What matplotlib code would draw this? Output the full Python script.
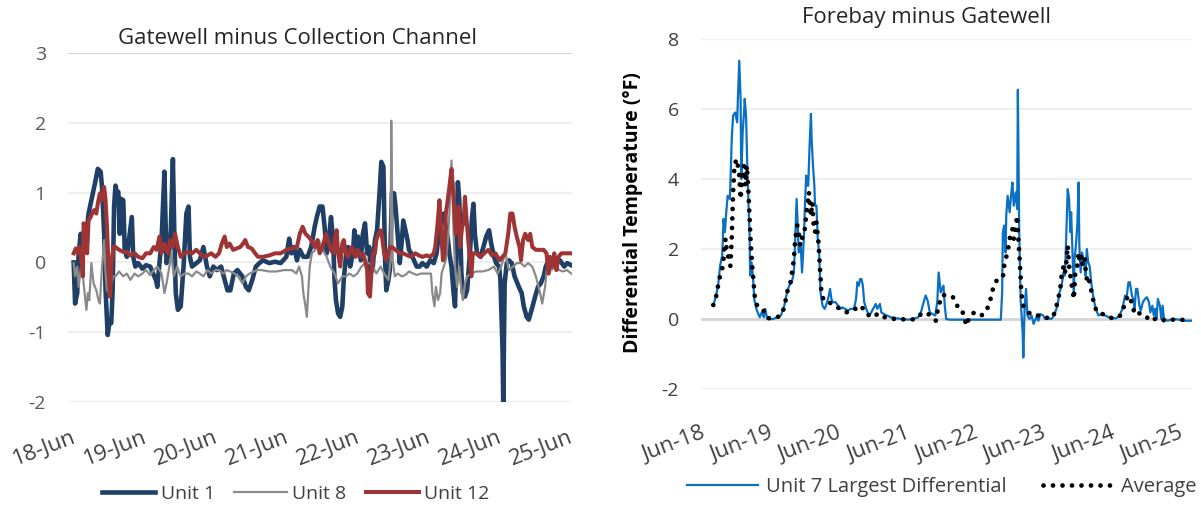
import matplotlib
matplotlib.use("Agg")
import matplotlib.pyplot as plt

plt.rcParams["font.family"] = ["Open Sans", "Noto Sans", "DejaVu Sans"]

# ---- left panel: Gatewell minus Collection Channel (days after 18-Jun) ----
left_dates = ["18-Jun", "19-Jun", "20-Jun", "21-Jun", "22-Jun", "23-Jun", "24-Jun", "25-Jun"]

u1_day = [0.03, 0.05, 0.08, 0.10, 0.13, 0.16, 0.20, 0.24, 0.29, 0.34,
          0.37, 0.41, 0.43, 0.46, 0.48, 0.51, 0.54, 0.56, 0.58, 0.60,
          0.62, 0.64, 0.66, 0.68, 0.70, 0.73, 0.75, 0.78, 0.81, 0.85,
          0.87, 0.90, 0.94, 1.00, 1.05, 1.11, 1.15, 1.19, 1.21, 1.24,
          1.27, 1.31, 1.34, 1.38, 1.40, 1.43, 1.45, 1.47, 1.50, 1.54,
          1.58, 1.62, 1.65, 1.67, 1.70, 1.76, 1.81, 1.86, 1.91, 1.95,
          2.00, 2.05, 2.11, 2.16, 2.20, 2.24, 2.29, 2.34, 2.41, 2.46,
          2.50, 2.55, 2.60, 2.65, 2.70, 2.79, 2.87, 2.95, 3.03, 3.07,
          3.10, 3.14, 3.18, 3.22, 3.27, 3.33, 3.38, 3.43, 3.46, 3.50,
          3.54, 3.57, 3.60, 3.63, 3.66, 3.69, 3.71, 3.73, 3.76, 3.79,
          3.82, 3.84, 3.87, 3.90, 3.93, 3.97, 3.99, 4.02, 4.04, 4.08,
          4.11, 4.14, 4.17, 4.20, 4.22, 4.25, 4.28, 4.31, 4.35, 4.37,
          4.40, 4.42, 4.44, 4.47, 4.49, 4.52, 4.55, 4.57, 4.60, 4.63,
          4.66, 4.68, 4.71, 4.74, 4.76, 4.79, 4.83, 4.87, 4.91, 4.95,
          5.01, 5.06, 5.11, 5.15, 5.18, 5.21, 5.25, 5.28, 5.31, 5.33,
          5.36, 5.39, 5.41, 5.43, 5.45, 5.47, 5.50, 5.52, 5.55, 5.58,
          5.62, 5.65, 5.67, 5.69, 5.72, 5.77, 5.81, 5.85, 5.89, 5.92,
          5.96, 5.99, 6.03, 6.05, 6.08, 6.09, 6.11, 6.14, 6.17, 6.21,
          6.25, 6.31, 6.35, 6.38, 6.42, 6.45, 6.49, 6.54, 6.58, 6.62,
          6.66, 6.69, 6.73, 6.77, 6.81, 6.85, 6.89, 6.95, 6.99, 7.05]
u1_val = [0.00, -0.59, -0.44, 0.13, 0.41, 0.13, 0.32, 0.70, 0.94, 1.18,
          1.34, 1.30, 1.08, 0.41, -0.40, -1.04, -0.82, -0.87, -0.40, 0.80,
          1.10, 0.99, 1.01, 0.41, 0.91, 0.89, 0.18, 0.08, 0.32, 0.65,
          0.08, -0.06, -0.01, -0.09, -0.04, -0.06, -0.16, -0.25, -0.35, -0.01,
          0.32, 1.30, -0.01, 0.18, 0.46, 1.48, 0.41, -0.44, -0.68, -0.63,
          -0.06, 0.70, 0.80, 0.08, -0.06, -0.01, 0.03, 0.22, -0.06, -0.20,
          -0.06, -0.11, -0.06, -0.25, -0.40, -0.40, -0.16, -0.11, -0.20, -0.35,
          -0.40, -0.25, -0.06, -0.01, 0.03, -0.01, 0.01, -0.01, 0.08, 0.34,
          0.13, 0.22, 0.03, 0.18, 0.08, 0.08, 0.22, 0.51, 0.65, 0.80,
          0.80, 0.51, 0.13, 0.32, 0.65, 0.32, -0.25, -0.54, -0.73, -0.78,
          -0.63, -0.25, 0.08, 0.22, -0.06, 0.13, 0.46, 0.13, 0.37, 0.03,
          0.41, 0.56, 0.13, 0.22, -0.16, -0.06, 0.32, 0.46, 1.08, 1.44,
          1.37, 0.13, -0.40, -0.25, -0.11, 0.99, 0.99, 0.80, 0.41, -0.01,
          0.32, 0.60, 0.46, 0.32, 0.18, 0.13, 0.03, -0.06, -0.06, -0.01,
          -0.06, 0.03, -0.01, 0.13, 0.41, 0.60, 0.70, 0.51, 0.32, 0.13,
          -0.06, -0.44, -0.63, 0.18, 1.15, 0.89, -0.16, -0.44, -0.49, -0.40,
          0.13, 0.65, 0.84, 0.41, 0.13, 0.08, 0.22, 0.37, 0.46, 0.27,
          0.08, -0.01, -0.06, -0.25, -1.25, -2.00, -0.30, -0.01, 0.03, -0.01,
          -0.20, -0.35, -0.44, -0.63, -0.78, -0.82, -0.68, -0.49, -0.35, -0.30,
          -0.20, -0.06, 0.03, -0.06, 0.08, -0.01, 0.03, -0.06, -0.01, -0.04]

u8_day = [0.03, 0.05, 0.08, 0.10, 0.14, 0.17, 0.21, 0.23, 0.25, 0.28,
          0.31, 0.35, 0.38, 0.40, 0.43, 0.46, 0.48, 0.50, 0.53, 0.56,
          0.59, 0.62, 0.67, 0.73, 0.78, 0.83, 0.89, 0.94, 1.00, 1.05,
          1.11, 1.16, 1.21, 1.27, 1.31, 1.34, 1.38, 1.41, 1.44, 1.49,
          1.54, 1.59, 1.65, 1.70, 1.76, 1.81, 1.86, 1.92, 1.97, 2.03,
          2.08, 2.14, 2.19, 2.24, 2.30, 2.35, 2.41, 2.46, 2.51, 2.57,
          2.62, 2.68, 2.79, 2.89, 3.00, 3.11, 3.17, 3.21, 3.25, 3.27,
          3.30, 3.32, 3.34, 3.36, 3.39, 3.44, 3.49, 3.54, 3.60, 3.65,
          3.71, 3.76, 3.82, 3.87, 3.92, 3.98, 4.03, 4.09, 4.14, 4.20,
          4.25, 4.30, 4.36, 4.41, 4.47, 4.50, 4.51, 4.53, 4.56, 4.60,
          4.66, 4.71, 4.76, 4.82, 4.87, 4.93, 4.98, 5.04, 5.07, 5.09,
          5.12, 5.14, 5.17, 5.20, 5.22, 5.25, 5.28, 5.31, 5.33, 5.36,
          5.39, 5.41, 5.44, 5.47, 5.50, 5.52, 5.55, 5.58, 5.63, 5.71,
          5.79, 5.88, 5.96, 6.01, 6.06, 6.12, 6.17, 6.23, 6.28, 6.34,
          6.39, 6.44, 6.50, 6.55, 6.61, 6.64, 6.68, 6.71, 6.77, 6.82,
          6.88, 6.93, 6.99, 7.05]
u8_val = [-0.01, -0.20, -0.06, -0.35, -0.01, -0.30, -0.68, -0.44, -0.54, -0.01,
          -0.30, -0.40, -0.54, -0.59, -0.06, 0.32, -0.16, -0.40, -0.44, -0.30,
          -0.20, -0.20, -0.13, -0.20, -0.16, -0.25, -0.16, -0.20, -0.16, -0.11,
          -0.18, -0.11, -0.06, -0.16, -0.44, -0.30, -0.06, 0.13, -0.20, -0.06,
          -0.20, -0.16, -0.16, -0.20, -0.13, -0.16, -0.20, -0.11, -0.16, -0.11,
          -0.11, -0.16, -0.11, -0.13, -0.16, -0.20, -0.30, -0.20, -0.16, -0.13,
          -0.11, -0.11, -0.13, -0.13, -0.11, -0.11, -0.16, -0.06, -0.20, -0.44,
          -0.63, -0.78, -0.40, -0.06, 0.13, 0.18, 0.32, 0.18, 0.08, -0.06,
          -0.16, -0.30, -0.20, -0.20, -0.16, -0.20, -0.16, -0.06, -0.01, -0.01,
          -0.06, -0.16, -0.06, -0.16, -0.25, 0.03, 2.03, 0.03, -0.20, -0.16,
          -0.20, -0.18, -0.13, -0.16, -0.18, -0.16, -0.16, -0.16, -0.16, -0.44,
          -0.63, -0.35, -0.54, -0.44, -0.16, -0.06, 0.03, 0.32, 0.70, 1.46,
          0.41, -0.06, -0.35, -0.06, -0.40, -0.54, -0.30, -0.20, -0.16, -0.13,
          -0.13, -0.11, -0.06, -0.16, -0.06, 0.13, -0.11, -0.06, -0.01, -0.01,
          -0.06, -0.01, -0.06, -0.20, -0.44, -0.59, -0.35, -0.06, -0.11, -0.06,
          -0.11, -0.13, -0.11, -0.16]

u12_day = [0.03, 0.06, 0.09, 0.11, 0.14, 0.16, 0.17, 0.20, 0.22, 0.24,
           0.27, 0.29, 0.32, 0.35, 0.37, 0.40, 0.42, 0.46, 0.48, 0.50,
           0.52, 0.54, 0.56, 0.59, 0.62, 0.67, 0.73, 0.78, 0.83, 0.89,
           0.94, 1.00, 1.05, 1.11, 1.16, 1.20, 1.24, 1.27, 1.31, 1.36,
           1.39, 1.43, 1.46, 1.50, 1.54, 1.59, 1.65, 1.70, 1.76, 1.81,
           1.86, 1.92, 1.97, 2.03, 2.08, 2.12, 2.16, 2.19, 2.23, 2.28,
           2.33, 2.38, 2.42, 2.45, 2.49, 2.54, 2.59, 2.63, 2.70, 2.79,
           2.87, 2.95, 3.03, 3.11, 3.18, 3.22, 3.26, 3.30, 3.34, 3.38,
           3.43, 3.47, 3.50, 3.54, 3.59, 3.63, 3.66, 3.69, 3.71, 3.74,
           3.76, 3.79, 3.82, 3.84, 3.87, 3.90, 3.92, 3.95, 3.98, 4.01,
           4.03, 4.06, 4.09, 4.11, 4.14, 4.17, 4.18, 4.21, 4.23, 4.25,
           4.28, 4.30, 4.33, 4.36, 4.38, 4.41, 4.44, 4.47, 4.49, 4.52,
           4.57, 4.63, 4.68, 4.74, 4.79, 4.85, 4.90, 4.95, 5.01, 5.06,
           5.11, 5.13, 5.16, 5.19, 5.21, 5.24, 5.26, 5.28, 5.30, 5.33,
           5.36, 5.39, 5.42, 5.44, 5.46, 5.48, 5.51, 5.53, 5.55, 5.57,
           5.60, 5.64, 5.66, 5.71, 5.77, 5.82, 5.88, 5.93, 5.98, 6.04,
           6.08, 6.12, 6.16, 6.19, 6.22, 6.25, 6.28, 6.32, 6.34, 6.37,
           6.40, 6.44, 6.47, 6.50, 6.55, 6.61, 6.66, 6.70, 6.73, 6.75,
           6.78, 6.81, 6.84, 6.87, 6.91, 6.95, 6.99, 7.05]
u12_val = [0.13, 0.20, 0.13, 0.22, 0.03, -0.20, 0.56, 0.46, 0.13, 0.60,
           0.65, 0.70, 0.75, 0.70, 0.84, 0.99, 0.89, 1.08, 0.89, 0.51,
           -0.01, -0.49, -0.06, 0.22, 0.22, 0.18, 0.15, 0.15, 0.10, 0.13,
           0.08, 0.06, 0.13, 0.13, 0.22, 0.18, 0.37, 0.13, 0.27, 0.13,
           0.32, 0.22, 0.41, 0.22, 0.08, 0.13, 0.15, 0.13, 0.18, 0.13,
           0.08, 0.10, 0.13, 0.08, 0.13, 0.27, 0.37, 0.22, 0.27, 0.18,
           0.20, 0.22, 0.27, 0.32, 0.22, 0.20, 0.13, 0.08, 0.08, 0.10,
           0.13, 0.13, 0.18, 0.20, 0.22, 0.41, 0.51, 0.41, 0.37, 0.32,
           0.22, 0.32, 0.13, 0.22, 0.41, 0.27, 0.18, 0.13, 0.32, 0.46,
           0.13, -0.06, 0.27, 0.32, 0.13, 0.08, 0.13, 0.22, 0.13, 0.08,
           0.18, 0.13, 0.08, 0.13, 0.03, -0.11, -0.44, -0.49, -0.16, 0.13,
           0.13, 0.32, 0.41, 0.46, 0.37, 0.13, 0.03, 0.13, 0.22, 0.22,
           0.18, 0.13, 0.13, 0.10, 0.08, 0.13, 0.10, 0.08, 0.10, 0.08,
           0.13, 0.22, 0.51, 0.89, 0.51, 0.03, 0.13, 0.70, 0.84, 1.08,
           1.34, 0.94, 0.41, 0.60, 0.80, 0.22, 0.51, 0.56, 0.94, 0.65,
           0.27, -0.20, 0.13, 0.13, 0.08, 0.13, 0.18, 0.10, 0.13, 0.03,
           0.08, 0.13, 0.41, 0.70, 0.70, 0.51, 0.37, 0.22, 0.03, 0.32,
           0.41, 0.32, 0.41, 0.22, 0.18, 0.18, 0.18, 0.13, -0.16, 0.08,
           -0.06, 0.13, -0.11, 0.08, 0.13, 0.13, 0.13, 0.13]

# ---- right panel: Forebay minus Gatewell ----
right_dates = ["Jun-18", "Jun-19", "Jun-20", "Jun-21", "Jun-22", "Jun-23", "Jun-24", "Jun-25"]

u7_day = [0.18, 0.22, 0.25, 0.28, 0.31, 0.32, 0.33, 0.35, 0.37, 0.39,
          0.42, 0.43, 0.45, 0.47, 0.50, 0.53, 0.54, 0.56, 0.58, 0.59,
          0.61, 0.63, 0.64, 0.66, 0.68, 0.71, 0.72, 0.74, 0.76, 0.78,
          0.81, 0.83, 0.86, 0.89, 0.92, 0.94, 0.97, 1.00, 1.06, 1.11,
          1.17, 1.22, 1.26, 1.29, 1.33, 1.36, 1.38, 1.40, 1.42, 1.43,
          1.46, 1.48, 1.51, 1.52, 1.54, 1.56, 1.57, 1.59, 1.61, 1.62,
          1.64, 1.66, 1.67, 1.69, 1.71, 1.73, 1.75, 1.78, 1.81, 1.83,
          1.86, 1.89, 1.91, 1.93, 1.97, 2.01, 2.04, 2.07, 2.11, 2.15,
          2.19, 2.24, 2.27, 2.29, 2.31, 2.33, 2.35, 2.37, 2.39, 2.42,
          2.45, 2.48, 2.52, 2.56, 2.58, 2.62, 2.64, 2.68, 2.72, 2.78,
          2.86, 2.94, 3.03, 3.11, 3.18, 3.22, 3.26, 3.29, 3.32, 3.35,
          3.39, 3.43, 3.46, 3.48, 3.51, 3.53, 3.55, 3.57, 3.59, 3.64,
          3.75, 3.92, 4.08, 4.25, 4.39, 4.41, 4.42, 4.44, 4.46, 4.47,
          4.49, 4.52, 4.54, 4.56, 4.58, 4.61, 4.63, 4.64, 4.66, 4.68,
          4.71, 4.72, 4.74, 4.76, 4.78, 4.81, 4.84, 4.87, 4.91, 4.94,
          4.97, 5.01, 5.04, 5.08, 5.13, 5.17, 5.22, 5.25, 5.28, 5.31,
          5.33, 5.35, 5.37, 5.39, 5.41, 5.42, 5.44, 5.46, 5.47, 5.49,
          5.51, 5.53, 5.54, 5.56, 5.58, 5.61, 5.63, 5.65, 5.67, 5.69,
          5.72, 5.75, 5.78, 5.82, 5.86, 5.92, 5.97, 6.03, 6.08, 6.13,
          6.17, 6.21, 6.23, 6.26, 6.28, 6.31, 6.33, 6.35, 6.37, 6.39,
          6.42, 6.44, 6.47, 6.50, 6.53, 6.56, 6.58, 6.61, 6.63, 6.65,
          6.67, 6.69, 6.72, 6.74, 6.76, 6.78, 6.83, 6.92, 7.00, 7.08,
          7.19]
u7_val = [0.38, 0.67, 0.95, 1.52, 1.81, 2.29, 2.86, 2.48, 3.05, 3.52,
          3.43, 3.81, 5.14, 5.81, 5.90, 5.62, 6.29, 7.38, 6.29, 4.00,
          5.33, 5.90, 6.29, 5.81, 4.19, 2.48, 1.24, 1.62, 1.24, 0.57,
          0.29, 0.19, 0.05, 0.19, 0.05, 0.29, 0.00, 0.00, 0.00, 0.05,
          0.10, 0.38, 0.76, 0.95, 1.05, 1.33, 2.29, 3.43, 2.48, 1.90,
          2.10, 1.33, 2.48, 3.14, 4.10, 3.81, 3.81, 4.95, 5.86, 5.14,
          4.38, 3.81, 3.24, 3.24, 2.29, 1.90, 0.76, 0.38, 0.29, 0.38,
          0.57, 0.86, 0.57, 0.48, 0.48, 0.38, 0.29, 0.33, 0.29, 0.24,
          0.29, 0.29, 0.57, 1.05, 0.95, 1.14, 1.14, 0.95, 0.48, 0.29,
          0.14, 0.14, 0.29, 0.43, 0.29, 0.43, 0.19, 0.14, 0.10, 0.05,
          0.02, 0.00, -0.02, 0.00, 0.05, 0.19, 0.48, 0.67, 0.52, 0.19,
          0.14, 0.10, 0.48, 1.33, 0.76, 0.86, 0.95, 0.38, 0.00, -0.02,
          -0.02, -0.02, -0.02, -0.02, -0.02, 0.76, 2.48, 2.67, 1.90, 2.95,
          3.52, 3.05, 3.52, 3.90, 3.24, 3.62, 3.14, 6.55, 2.48, 0.57,
          -0.38, -1.10, 0.38, 0.86, 0.10, 0.00, 0.10, -0.14, 0.05, -0.05,
          0.14, 0.10, 0.00, 0.02, 0.00, 0.10, 0.38, 0.76, 0.95, 1.33,
          1.24, 2.48, 3.71, 3.43, 2.48, 3.05, 1.90, 0.76, 1.71, 2.10,
          2.67, 3.90, 2.10, 1.33, 1.90, 1.62, 1.24, 2.00, 1.62, 1.52,
          0.95, 0.57, 0.29, 0.10, 0.14, 0.10, 0.05, 0.02, 0.02, 0.10,
          0.29, 0.67, 0.57, 1.05, 1.05, 0.67, 0.57, 0.29, 0.86, 0.86,
          0.38, 0.24, 0.48, 0.57, 0.62, 0.48, 0.19, 0.38, 0.10, 0.29,
          0.00, 0.57, 0.38, 0.00, 0.38, 0.00, -0.05, 0.00, -0.02, -0.05,
          -0.05]

avg_day = [0.18, 0.22, 0.25, 0.28, 0.31, 0.33, 0.34, 0.36, 0.38, 0.41,
           0.43, 0.45, 0.47, 0.49, 0.52, 0.54, 0.56, 0.58, 0.61, 0.63,
           0.65, 0.67, 0.69, 0.71, 0.73, 0.75, 0.77, 0.79, 0.82, 0.86,
           0.89, 0.93, 0.96, 1.00, 1.06, 1.11, 1.17, 1.22, 1.26, 1.31,
           1.34, 1.36, 1.38, 1.41, 1.43, 1.45, 1.47, 1.49, 1.52, 1.54,
           1.56, 1.58, 1.61, 1.63, 1.65, 1.67, 1.69, 1.72, 1.74, 1.76,
           1.79, 1.83, 1.87, 1.92, 1.97, 2.03, 2.08, 2.14, 2.19, 2.24,
           2.28, 2.33, 2.36, 2.42, 2.47, 2.53, 2.58, 2.64, 2.69, 2.75,
           2.83, 2.92, 3.00, 3.08, 3.17, 3.22, 3.28, 3.33, 3.39, 3.44,
           3.47, 3.51, 3.54, 3.58, 3.64, 3.69, 3.72, 3.75, 3.78, 3.82,
           3.85, 3.89, 3.92, 3.96, 4.01, 4.06, 4.11, 4.15, 4.19, 4.23,
           4.26, 4.29, 4.33, 4.37, 4.42, 4.44, 4.46, 4.49, 4.52, 4.54,
           4.56, 4.58, 4.61, 4.63, 4.64, 4.66, 4.68, 4.69, 4.72, 4.75,
           4.78, 4.82, 4.86, 4.91, 4.95, 4.99, 5.04, 5.09, 5.15, 5.19,
           5.23, 5.26, 5.28, 5.31, 5.33, 5.35, 5.37, 5.39, 5.42, 5.44,
           5.46, 5.48, 5.51, 5.53, 5.55, 5.57, 5.59, 5.62, 5.64, 5.66,
           5.68, 5.71, 5.74, 5.77, 5.81, 5.85, 5.89, 5.94, 5.98, 6.03,
           6.08, 6.14, 6.18, 6.22, 6.25, 6.28, 6.32, 6.35, 6.39, 6.44,
           6.48, 6.53, 6.57, 6.62, 6.66, 6.71, 6.75, 6.81, 6.86, 6.92,
           6.97, 7.03, 7.08]
avg_val = [0.40, 0.62, 0.95, 1.24, 1.43, 1.71, 2.00, 2.29, 1.90, 1.71,
           1.52, 2.29, 3.62, 4.38, 4.57, 4.38, 4.10, 3.43, 4.19, 4.38,
           3.81, 4.38, 3.81, 2.95, 2.10, 1.52, 1.05, 0.57, 0.40, 0.38,
           0.33, 0.19, 0.05, 0.02, 0.02, 0.05, 0.10, 0.33, 0.76, 1.05,
           1.43, 1.71, 2.29, 2.67, 2.48, 2.14, 2.10, 2.48, 2.57, 2.95,
           3.24, 3.62, 2.95, 3.33, 2.67, 2.48, 2.76, 2.19, 1.52, 0.86,
           0.57, 0.48, 0.48, 0.43, 0.38, 0.29, 0.24, 0.19, 0.24, 0.29,
           0.29, 0.38, 0.33, 0.14, 0.10, 0.05, 0.14, 0.14, 0.05, 0.05,
           0.00, -0.02, 0.00, -0.02, 0.02, 0.14, 0.19, 0.14, 0.05, -0.05,
           0.29, 0.57, 0.69, 0.67, 0.67, 0.62, 0.52, 0.38, 0.33, 0.29,
           0.05, -0.19, 0.00, 0.14, 0.19, 0.14, 0.10, 0.24, 0.29, 0.48,
           0.76, 0.95, 1.10, 1.14, 1.19, 1.52, 1.71, 1.90, 2.29, 2.48,
           2.57, 2.29, 2.67, 2.95, 2.48, 1.90, 1.24, 0.76, 0.38, 0.29,
           0.24, 0.14, 0.14, 0.10, 0.10, 0.05, 0.05, 0.02, 0.05, 0.24,
           0.57, 0.86, 1.24, 1.52, 1.33, 1.62, 2.10, 1.52, 1.05, 0.86,
           0.57, 1.33, 1.52, 1.90, 1.62, 1.81, 1.52, 1.71, 1.24, 1.05,
           1.14, 0.86, 0.57, 0.33, 0.19, 0.14, 0.14, 0.10, 0.05, 0.02,
           0.02, 0.10, 0.29, 0.48, 0.67, 0.62, 0.38, 0.14, 0.19, 0.14,
           0.14, 0.05, -0.05, 0.00, 0.00, -0.05, -0.02, -0.05, -0.02, -0.02,
           -0.03, -0.02, -0.03]

left_yticks = [-2, -1, 0, 1, 2, 3]
right_yticks = [-2, 0, 2, 4, 6, 8]

navy = "#203f66"
grey = "#8a8a8a"
red = "#9e3434"
blue = "#0a70c4"
grid_c = "#efefef"

fig = plt.figure(figsize=(12.01, 5.08), dpi=100)

# left chart
ax1 = fig.add_axes([68 / 1201, 1 - 402 / 508, 504 / 1201, 349 / 508])
for y in left_yticks:
    ax1.axhline(y, color="#d4d4d4" if y == 3 else grid_c, lw=1.6, zorder=0)
ax1.plot(u1_day, u1_val, color=navy, lw=3.3, label="Unit 1", solid_joinstyle="round")
ax1.plot(u8_day, u8_val, color=grey, lw=1.6, label="Unit 8")
ax1.plot(u12_day, u12_val, color=red, lw=2.9, label="Unit 12", solid_joinstyle="round")
ax1.set_xlim(-0.05, 7.06)
ax1.set_ylim(-2, 3)
ax1.set_yticks(left_yticks)
ax1.set_yticklabels([str(v) for v in left_yticks], color="#595959", fontsize=14)
ax1.set_xticks(range(len(left_dates)))
ax1.set_xticklabels(left_dates, rotation=21, ha="right", va="top",
                    rotation_mode="anchor", fontsize=16, color="#404040")
ax1.tick_params(length=0, axis="x", pad=18)
ax1.tick_params(length=0, axis="y", pad=16)
for s in ax1.spines.values():
    s.set_visible(False)
ax1.legend(ncol=3, loc="center", bbox_to_anchor=(296 / 1201, 1 - 494 / 508),
           bbox_transform=fig.transFigure, frameon=False, fontsize=14,
           handlelength=2.7, handletextpad=0.3, columnspacing=1.0,
           labelcolor="#404040")
fig.text(297 / 1201, 1 - 38 / 508, "Gatewell minus Collection Channel",
         ha="center", va="center", fontsize=16, color="#262626")

# right chart
ax2 = fig.add_axes([701 / 1201, 1 - 389 / 508, 491 / 1201, 350 / 508])
for y in right_yticks:
    ax2.axhline(y, color="#d4d4d4" if y == 0 else grid_c,
                lw=2.0 if y == 0 else 1.6, zorder=0)
ax2.plot(u7_day, u7_val, color=blue, lw=1.6, label="Unit 7 Largest Differential")
ax2.plot(avg_day, avg_val, color="black", lw=3.4, linestyle=(0, (0.01, 2.0)),
         dash_capstyle="round", label="Average")
ax2.set_xlim(0.098, 7.19)
ax2.set_ylim(-2, 8)
ax2.set_yticks(right_yticks)
ax2.set_yticklabels([str(v) for v in right_yticks], color="#404040", fontsize=14)
ax2.set_xticks(range(len(right_dates)))
ax2.set_xticklabels(right_dates, rotation=21, ha="right", va="top",
                    rotation_mode="anchor", fontsize=16, color="#404040")
ax2.tick_params(length=0, axis="x", pad=24)
ax2.tick_params(length=0, axis="y", pad=16)
for s in ax2.spines.values():
    s.set_visible(False)
fig.text(633 / 1201, 1 - 213 / 508, "Differential Temperature (°F)",
         rotation=90, ha="center", va="center", fontsize=14, fontweight="bold")
ax2.legend(ncol=2, loc="center", bbox_to_anchor=(942 / 1201, 1 - 487 / 508),
           bbox_transform=fig.transFigure, frameon=False, fontsize=14.5,
           handlelength=3.5, handletextpad=0.4, columnspacing=1.8,
           labelcolor="#404040")
fig.text(927 / 1201, 1 - 18 / 508, "Forebay minus Gatewell",
         ha="center", va="center", fontsize=16, color="#262626")

fig.savefig("out.png", dpi=100)
